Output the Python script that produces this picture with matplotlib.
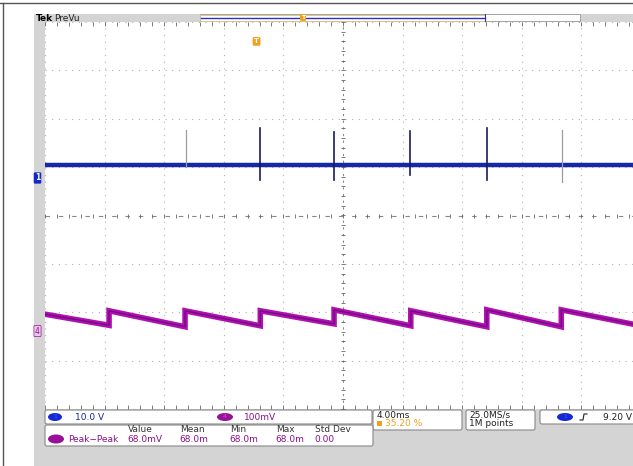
import matplotlib
matplotlib.use("Agg")
import matplotlib.pyplot as plt
from matplotlib.patches import FancyBboxPatch, Rectangle, Ellipse
import numpy as np

# ---------------- data ----------------
# time axis: 4 ms/div, 10 divisions, trigger-centred display (ms)
t_min, t_max = -20.0, 20.0
div_v = 4  # +/- vertical divisions

# SW trace (channel 1, in screen divisions)
sw_level = 1.04
sw_spike_t = [-10.55, -5.57, -0.6, 4.5, 9.66, 14.7]
sw_spike_top = [1.77, 1.81, 1.73, 1.75, 1.81, 1.77]
sw_spike_bot = [1.00, 0.73, 0.73, 0.83, 0.73, 0.69]
sw_spike_dark = [False, True, True, True, True, False]

# VOUT trace (channel 4, in screen divisions) : sawtooth ripple
vout_jump_t = [-15.7, -10.6, -5.55, -0.6, 4.55, 9.65, 14.65]
vout_ramp_start = [-2.04, -1.97, -1.97, -1.97, -1.95, -1.97, -1.95, -1.95]
vout_ramp_end = [-2.27, -2.30, -2.28, -2.24, -2.28, -2.30, -2.30, -2.28]

# readouts
ch1_scale = "10.0 V"
ch4_scale = "100mV"
timebase = "4.00ms"
trig_pos = "35.20 %"
sample_rate = "25.0MS/s"
rec_len = "1M points"
trig_level = "9.20 V"
meas_headers = ["Value", "Mean", "Min", "Max", "Std Dev"]
meas_values = ["68.0mV", "68.0m", "68.0m", "68.0m", "0.00"]
meas_name = "Peak\u2212Peak"

# ---------------- figure ----------------
W, H = 633, 466
fig = plt.figure(figsize=(W / 100, H / 100), dpi=100)
fig.patch.set_facecolor("white")

bg = fig.add_axes([0, 0, 1, 1])
bg.set_xlim(0, W)
bg.set_ylim(H, 0)
bg.axis("off")

# outer frame lines
bg.plot([0, W], [2.5, 2.5], color="#555555", lw=1.0)
bg.plot([3, 3], [2.5, H], color="#555555", lw=1.0)
# scope screen gray
bg.add_patch(Rectangle((34, 14), W - 34, H - 14, color="#d4d4d4", lw=0))

# top bar: Tek PreVu + record view
bg.text(36, 18.5, "Tek", fontsize=6.5, fontweight="bold", va="center", ha="left", color="black")
bg.text(54, 18.5, "PreVu", fontsize=6.5, va="center", ha="left", color="#222222")
bg.add_patch(Rectangle((200, 14), 380, 7, facecolor="white", edgecolor="#888888", lw=0.5))
bg.add_patch(Rectangle((200, 14.5), 285, 6, facecolor="white", edgecolor="#d8c070", lw=0.6))
bg.plot([201, 485], [17.5, 17.5], color="#3030c0", lw=1.0)
bg.plot([485, 485], [14, 21], color="#3030c0", lw=0.8)
bg.text(303, 17.5, "T", fontsize=4.5, color="white", ha="center", va="center",
        fontweight="bold", bbox=dict(boxstyle="round,pad=0.15", fc="#f0a020", ec="none"))

# ---------------- scope axes ----------------
x0, x1 = 45, 641
y0, y1 = 22, 409
ax = fig.add_axes([x0 / W, 1 - y1 / H, (x1 - x0) / W, (y1 - y0) / H])
ax.set_xlim(t_min, t_max)
ax.set_ylim(-div_v, div_v)
ax.set_facecolor("white")
for s in ax.spines.values():
    s.set_visible(False)
ax.set_xticks([])
ax.set_yticks([])

gcol = "#b0b0b0"
tdiv = 4.0
for k in range(-5, 6):
    tx = k * tdiv
    if k == 0:
        continue
    ax.axvline(tx, color=gcol, lw=0.8, ls=(0, (1, 5)))
for k in range(-4, 5):
    if k == 0:
        continue
    ax.axhline(k, color=gcol, lw=0.8, ls=(0, (1, 5)))
# centre crosshair with minor ticks
ax.axvline(0, color="#888888", lw=0.8, ls=(0, (2, 4)))
ax.axhline(0, color="#888888", lw=0.8, ls=(0, (4, 8)))
minor_t = np.arange(t_min, t_max + 0.01, tdiv / 5)
minor_v = np.arange(-div_v, div_v + 0.01, 0.2)
ax.plot(minor_t, np.zeros_like(minor_t), "|", color="#666666", ms=3, mew=0.6)
ax.plot(np.zeros_like(minor_v), minor_v, "_", color="#666666", ms=3, mew=0.6)
ax.plot(minor_t, np.full_like(minor_t, div_v - 0.05), "|", color="#666666", ms=3, mew=0.6)
ax.plot(minor_t, np.full_like(minor_t, -div_v + 0.05), "|", color="#666666", ms=3, mew=0.6)

# SW trace
ax.plot([t_min, t_max], [sw_level, sw_level], color="#1428a8", lw=3.2, solid_capstyle="butt", zorder=4)
for st, top, bot, dark in zip(sw_spike_t, sw_spike_top, sw_spike_bot, sw_spike_dark):
    ax.plot([st, st], [bot, top], color="#1a1a60" if dark else "#9a9aaa", lw=1.2 if dark else 0.9, zorder=5)

# VOUT trace: build sawtooth vertices from ramp data
edges = [t_min] + vout_jump_t + [t_max]
vt, vv = [], []
for i in range(len(edges) - 1):
    vt += [edges[i], edges[i + 1]]
    vv += [vout_ramp_start[i], vout_ramp_end[i]]
ax.plot(vt, vv, color="#b010b0", lw=4.0, solid_joinstyle="miter", zorder=4)
ax.plot(vt, vv, color="#5a0a70", lw=1.0, alpha=0.7, zorder=5)

# trigger position marker
ax.text(-5.8, 3.6, "T", fontsize=5, color="white", ha="center", va="center", fontweight="bold",
        bbox=dict(boxstyle="round,pad=0.2", fc="#f0a020", ec="none"), zorder=6)

# channel markers & labels (figure pixel coords)
bg.text(37.5, 178, "1", fontsize=5.5, color="white", ha="center", va="center", fontweight="bold",
        bbox=dict(boxstyle="round,pad=0.15", fc="#1428c8", ec="none"), zorder=10)
bg.text(48, 178, "SW", fontsize=6.5, color="#222222", ha="left", va="center", zorder=10)
bg.text(37.5, 331, "4", fontsize=5.5, color="#9a109a", ha="center", va="center",
        bbox=dict(boxstyle="round,pad=0.15", fc="#e8c8e8", ec="#9a109a", lw=0.5), zorder=10)
bg.text(48, 331, "VOUT", fontsize=6.5, color="#222222", ha="left", va="center", zorder=10)

# ---------------- readout boxes ----------------
def box(xa, ya, xb, yb):
    bg.add_patch(FancyBboxPatch((xa, ya), xb - xa, yb - ya, boxstyle="round,pad=0,rounding_size=2",
                                fc="white", ec="#888888", lw=0.8, zorder=8))

box(45, 410, 372, 424)
box(373, 410, 462, 430)
box(466, 410, 535, 430)
box(540, 410, 640, 424)
box(45, 425, 373, 446)

bg.add_patch(Ellipse((55, 417), 14, 8, fc="#1428d8", ec="none", zorder=9))
bg.text(55, 417, "1", fontsize=4.5, color="#4060ff", ha="center", va="center", zorder=10)
bg.text(75, 417, ch1_scale, fontsize=6.5, color="#1428a0", ha="left", va="center", zorder=10)
bg.add_patch(Ellipse((225, 417), 16, 8, fc="#9a109a", ec="none", zorder=9))
bg.text(225, 417, "4", fontsize=4.5, color="#c060c0", ha="center", va="center", zorder=10)
bg.text(244, 417, ch4_scale, fontsize=6.5, color="#8a108a", ha="left", va="center", zorder=10)

bg.text(377, 415, timebase, fontsize=6.5, color="#222222", ha="left", va="center", zorder=10)
bg.add_patch(Rectangle((377, 421), 5, 5, fc="#f0a020", ec="none", zorder=9))
bg.text(385, 423.5, trig_pos, fontsize=6.5, color="#f0a020", ha="left", va="center", zorder=10)

bg.text(469, 415, sample_rate, fontsize=6.5, color="#222222", ha="left", va="center", zorder=10)
bg.text(469, 424, rec_len, fontsize=6.5, color="#222222", ha="left", va="center", zorder=10)

bg.add_patch(Ellipse((565, 417), 16, 8, fc="#1428d8", ec="none", zorder=9))
bg.text(565, 417, "1", fontsize=4.5, color="#4060ff", ha="center", va="center", zorder=10)
bg.plot([580, 583, 584, 587], [420, 420, 414, 414], color="#222222", lw=0.8, zorder=10)
bg.text(603, 417, trig_level, fontsize=6.5, color="#222222", ha="left", va="center", zorder=10)

bg.add_patch(Ellipse((56, 439), 16, 9, fc="#9a109a", ec="none", zorder=9))
bg.text(68, 439, meas_name, fontsize=6.5, color="#8a108a", ha="left", va="center", zorder=10)
hx = [128, 180, 230, 276, 315]
for x, h_, v_ in zip(hx, meas_headers, meas_values):
    bg.text(x, 430, h_, fontsize=6.5, color="#333333", ha="left", va="center", zorder=10)
    bg.text(x - 1, 439, v_, fontsize=6.5, color="#8a108a", ha="left", va="center", zorder=10)

fig.savefig("out.png", dpi=100)
